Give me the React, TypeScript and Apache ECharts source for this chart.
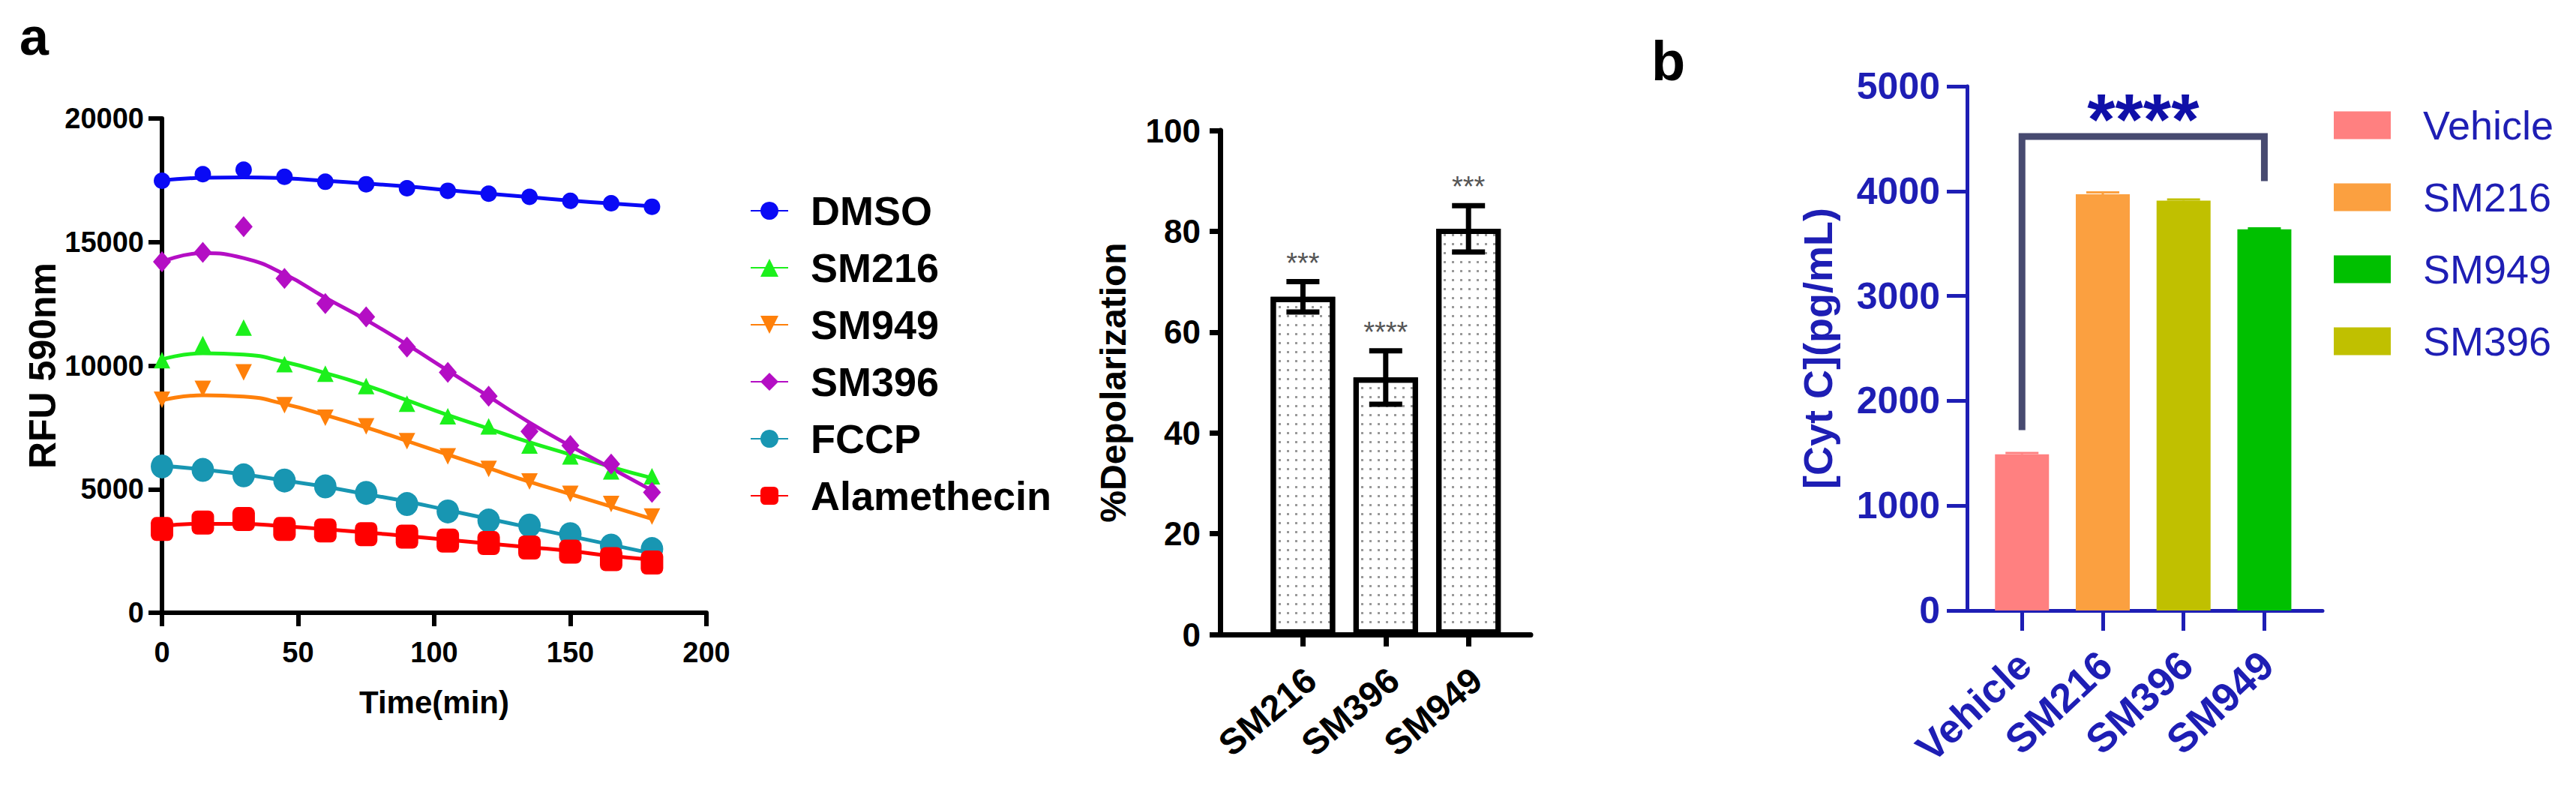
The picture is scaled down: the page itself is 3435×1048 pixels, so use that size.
import React, { useEffect, useRef } from 'react';
import * as echarts from 'echarts';

// ---------- Panel a (left): RFU 590nm over time ----------
const timePoints = [0, 15, 30, 45, 60, 75, 90, 105, 120, 135, 150, 165, 180];
const groupNames = ['DMSO', 'SM216', 'SM949', 'SM396', 'FCCP', 'Alamethecin'];

const dmsoPoints = [17480, 17745, 17930, 17640, 17440, 17340, 17180, 17075, 16955, 16830, 16670, 16570, 16430];
const sm216Points = [10220, 10870, 11540, 10060, 9670, 9170, 8460, 7950, 7540, 6770, 6330, 5720, 5520];
const sm949Points = [8620, 9060, 9730, 8400, 7890, 7540, 6940, 6330, 5820, 5310, 4810, 4400, 3890];
const sm396Points = [14200, 14580, 15620, 13530, 12510, 11970, 10750, 9730, 8760, 7340, 6770, 6020, 4870];
const fccpPoints = [5920, 5780, 5560, 5350, 5110, 4850, 4400, 4100, 3730, 3530, 3180, 2720, 2580];
const alaPoints = [3390, 3650, 3790, 3390, 3330, 3180, 3080, 2920, 2820, 2640, 2470, 2170, 2030];

// fitted curves
const dmsoFit = [17500, 17600, 17620, 17580, 17480, 17370, 17250, 17100, 16960, 16820, 16680, 16560, 16450];
const sm216Fit = [10250, 10500, 10450, 10150, 9700, 9200, 8600, 8000, 7450, 6900, 6400, 5900, 5450];
const sm949Fit = [8600, 8800, 8750, 8450, 8000, 7500, 6950, 6400, 5850, 5300, 4800, 4300, 3800];
const sm396Fit = [14200, 14550, 14350, 13700, 12750, 11850, 10850, 9800, 8750, 7700, 6750, 5850, 4950];
const fccpFit = [5950, 5800, 5600, 5350, 5100, 4800, 4500, 4150, 3800, 3450, 3100, 2750, 2400];
const alaFit = [3500, 3600, 3600, 3500, 3380, 3250, 3100, 2950, 2800, 2650, 2500, 2300, 2150];

const rfuTicks = { min: 0, max: 20000, interval: 5000 };
const timeTicks = { min: 0, max: 200, interval: 50 };

// ---------- Panel a (middle): %Depolarization ----------
const depolCategories = ['SM216', 'SM396', 'SM949'];
const depolMeans = [67, 51, 80.5];
const depolErrors = [3, 5.3, 4.6];
const depolStars = ['***', '****', '***'];

// ---------- Panel b: Cyt C ----------
const cytCategories = ['Vehicle', 'SM216', 'SM396', 'SM949'];
const cytMeans = [1490, 3970, 3910, 3635];
const cytErrors = [12, 18, 10, 10];
const cytLegendOrder = ['Vehicle', 'SM216', 'SM949', 'SM396'];
const bracketLevels = [1720, 4520, 4095]; // left foot, top, right foot
const bracketStars = '****';

// ---------- styles ----------
const groupStyle: Record<string, any> = {
  DMSO: { color: '#0a0af5', symbol: 'circle', size: 22 },
  SM216: { color: '#1cf01c', symbol: 'triangle', size: 22 },
  SM949: { color: '#ff800a', symbol: 'path://M0,0L10,0L5,9Z', size: 22 },
  SM396: { color: '#b40ec4', symbol: 'diamond', size: [24, 28] },
  FCCP: { color: '#1896b2', symbol: 'circle', size: [30, 32] },
  Alamethecin: { color: '#ff0000', symbol: 'roundRect', size: [30, 32] },
};
const groupPoints: Record<string, number[]> = {
  DMSO: dmsoPoints, SM216: sm216Points, SM949: sm949Points, SM396: sm396Points, FCCP: fccpPoints, Alamethecin: alaPoints,
};
const groupFits: Record<string, number[]> = {
  DMSO: dmsoFit, SM216: sm216Fit, SM949: sm949Fit, SM396: sm396Fit, FCCP: fccpFit, Alamethecin: alaFit,
};
const cytColors: Record<string, string> = {
  Vehicle: '#ff8080', SM216: '#fba040', SM396: '#c0c000', SM949: '#00c000',
};

const SANS = "'Liberation Sans', Arial, sans-serif";
const BLUE = '#1e1eb4';
const plain = (v: number) => String(v);

export default function App() {
  const ref = useRef<HTMLDivElement>(null);
  useEffect(() => {
    document.body.style.margin = '0';
    const chart = echarts.init(ref.current!, null, { renderer: 'svg' });

    const leftSeries: any[] = [];
    groupNames.forEach((g) => {
      const st = groupStyle[g];
      leftSeries.push({
        name: g, type: 'line', xAxisIndex: 0, yAxisIndex: 0,
        data: timePoints.map((t, i) => [t, groupFits[g][i]]),
        smooth: 0.5, symbol: st.symbol, showSymbol: false,
        lineStyle: { color: st.color, width: 5 }, itemStyle: { color: st.color }, z: 2,
      });
    });
    groupNames.forEach((g) => {
      const st = groupStyle[g];
      leftSeries.push({
        name: g, type: 'scatter', xAxisIndex: 0, yAxisIndex: 0,
        data: timePoints.map((t, i) => [t, groupPoints[g][i]]),
        symbol: st.symbol, symbolSize: st.size,
        itemStyle: { color: st.color, opacity: 1 }, z: 3,
      });
    });

    const depolBar = {
      type: 'bar', xAxisIndex: 1, yAxisIndex: 1,
      data: depolMeans.map((v, i) => [i + 1, v]),
      barWidth: 86,
      itemStyle: {
        color: '#ffffff', borderColor: '#000', borderWidth: 7,
        decal: {
          symbol: 'rect', symbolSize: 1, color: 'rgba(0,0,0,0.4)',
          dashArrayX: [3, 8], dashArrayY: [3, 9], rotation: 0,
        },
      },
      z: 2,
    };
    const depolErr = {
      type: 'custom', xAxisIndex: 1, yAxisIndex: 1,
      data: depolMeans.map((v, i) => [i + 1, v, depolErrors[i]]),
      z: 4,
      renderItem: (params: any, api: any) => {
        const x = api.value(0), y = api.value(1), e = api.value(2);
        const top = api.coord([x, y + e]);
        const bot = api.coord([x, y - e]);
        const hw = 22;
        const s = { stroke: '#000', lineWidth: 7 };
        return {
          type: 'group',
          children: [
            { type: 'line', shape: { x1: top[0], y1: top[1], x2: bot[0], y2: bot[1] }, style: s },
            { type: 'line', shape: { x1: top[0] - hw, y1: top[1], x2: top[0] + hw, y2: top[1] }, style: s },
            { type: 'line', shape: { x1: bot[0] - hw, y1: bot[1], x2: bot[0] + hw, y2: bot[1] }, style: s },
            {
              type: 'text', x: top[0], y: top[1] - 6,
              style: {
                text: depolStars[params.dataIndex], align: 'center', verticalAlign: 'bottom',
                fontSize: 38, fontFamily: SANS, fill: '#555',
              },
            },
          ],
        };
      },
    };

    const cytBars = cytLegendOrder.map((name) => {
      const i = cytCategories.indexOf(name);
      return {
        name, type: 'bar', xAxisIndex: 2, yAxisIndex: 2,
        data: [[i + 1, cytMeans[i]]], barWidth: 72, barGap: '-100%',
        itemStyle: { color: cytColors[name] }, z: 2,
      };
    });
    const cytErr = {
      type: 'custom', xAxisIndex: 2, yAxisIndex: 2,
      data: cytMeans.map((v, i) => [i + 1, v, cytErrors[i]]),
      z: 3,
      renderItem: (params: any, api: any) => {
        const x = api.value(0), y = api.value(1), e = api.value(2);
        const top = api.coord([x, y + e]);
        const mid = api.coord([x, y]);
        const c = cytColors[cytCategories[params.dataIndex]];
        return {
          type: 'group',
          children: [
            { type: 'line', shape: { x1: top[0], y1: top[1], x2: mid[0], y2: mid[1] }, style: { stroke: c, lineWidth: 3 } },
            { type: 'line', shape: { x1: top[0] - 22, y1: top[1], x2: top[0] + 22, y2: top[1] }, style: { stroke: c, lineWidth: 3 } },
          ],
        };
      },
    };
    const bracket = {
      type: 'custom', xAxisIndex: 2, yAxisIndex: 2,
      data: [[1, 4]],
      z: 5,
      renderItem: (params: any, api: any) => {
        const a = api.value(0), b = api.value(1);
        const p1 = api.coord([a, bracketLevels[0]]);
        const p2 = api.coord([a, bracketLevels[1]]);
        const p3 = api.coord([b, bracketLevels[1]]);
        const p4 = api.coord([b, bracketLevels[2]]);
        const t = api.coord([(a + b) / 2, bracketLevels[1]]);
        return {
          type: 'group',
          children: [
            {
              type: 'polyline', shape: { points: [p1, p2, p3, p4] },
              style: { stroke: '#474a70', lineWidth: 9, fill: 'none', lineJoin: 'miter' },
            },
            {
              type: 'text', x: t[0], y: t[1] - 24,
              style: {
                text: bracketStars, align: 'center', verticalAlign: 'middle',
                fontSize: 96, fontWeight: 'bold', fontFamily: SANS, fill: '#1010a8',
              },
            },
          ],
        };
      },
    };

    const blackAxis = (w: number) => ({ show: true, lineStyle: { color: '#000', width: w } });

    chart.setOption({
      animation: false,
      backgroundColor: '#fff',
      graphic: [
        { type: 'text', left: 26, top: 14, style: { text: 'a', fontSize: 70, fontWeight: 'bold', fontFamily: SANS, fill: '#000' } },
        { type: 'text', left: 2202, top: 44, style: { text: 'b', fontSize: 74, fontWeight: 'bold', fontFamily: SANS, fill: '#000' } },
      ],
      grid: [
        { left: 216, top: 158, width: 726, height: 659, outerBoundsMode: 'none' },
        { left: 1627, top: 174, width: 414, height: 672, outerBoundsMode: 'none' },
        { left: 2623, top: 115, width: 474, height: 699, outerBoundsMode: 'none' },
      ],
      xAxis: [
        {
          gridIndex: 0, type: 'value', ...timeTicks,
          name: 'Time(min)', nameLocation: 'middle', nameGap: 98,
          nameTextStyle: { fontSize: 42, fontWeight: 'bold', fontFamily: SANS, color: '#000' },
          axisLine: blackAxis(6), axisTick: { show: true, length: 18, lineStyle: { width: 6, color: '#000' } },
          axisLabel: { fontSize: 38, fontWeight: 'bold', fontFamily: SANS, color: '#000', margin: 34, formatter: plain },
          splitLine: { show: false },
        },
        {
          gridIndex: 1, type: 'value', min: 0, max: 3.75,
          axisLine: blackAxis(7),
          axisTick: { show: true, length: 16, customValues: [1, 2, 3], lineStyle: { width: 7, color: '#000' } },
          axisLabel: {
            customValues: [1.1, 2.1, 3.1], rotate: 40, margin: 54,
            formatter: (v: number) => depolCategories[Math.round(v) - 1] ?? '',
            fontSize: 48, fontWeight: 'bold', fontFamily: SANS, color: '#000',
          },
          splitLine: { show: false },
        },
        {
          gridIndex: 2, type: 'value', min: 0.32, max: 4.72,
          axisLine: { show: true, lineStyle: { color: BLUE, width: 5 } },
          axisTick: { show: true, length: 27, customValues: [1, 2, 3, 4], lineStyle: { width: 5, color: BLUE } },
          axisLabel: {
            customValues: [1.03, 2.03, 3.03, 4.03], rotate: 43, margin: 64,
            formatter: (v: number) => cytCategories[Math.round(v) - 1] ?? '',
            fontSize: 54, fontWeight: 'bold', fontFamily: SANS, color: BLUE,
          },
          splitLine: { show: false },
        },
      ],
      yAxis: [
        {
          gridIndex: 0, type: 'value', ...rfuTicks,
          name: 'RFU 590nm', nameLocation: 'middle', nameGap: 121, nameRotate: 90,
          nameTextStyle: { fontSize: 50, fontWeight: 'bold', fontFamily: SANS, color: '#000' },
          axisLine: blackAxis(6), axisTick: { show: true, length: 18, lineStyle: { width: 6, color: '#000' } },
          axisLabel: { fontSize: 38, fontWeight: 'bold', fontFamily: SANS, color: '#000', margin: 24, formatter: plain },
          splitLine: { show: false },
        },
        {
          gridIndex: 1, type: 'value', min: 0, max: 100, interval: 20,
          name: '%Depolarization', nameLocation: 'middle', nameGap: 119, nameRotate: 90,
          nameTextStyle: { fontSize: 48, fontWeight: 'bold', fontFamily: SANS, color: '#000' },
          axisLine: blackAxis(7), axisTick: { show: true, length: 14, lineStyle: { width: 7, color: '#000' } },
          axisLabel: { fontSize: 44, fontWeight: 'bold', fontFamily: SANS, color: '#000', margin: 26, formatter: plain },
          splitLine: { show: false },
        },
        {
          gridIndex: 2, type: 'value', min: 0, max: 5000, interval: 1000,
          name: '[Cyt C](pg/mL)', nameLocation: 'middle', nameGap: 172, nameRotate: 90,
          nameTextStyle: { fontSize: 54, fontWeight: 'bold', fontFamily: SANS, color: BLUE },
          axisLine: { show: true, lineStyle: { color: BLUE, width: 5 } },
          axisTick: { show: true, length: 27, lineStyle: { width: 5, color: BLUE } },
          axisLabel: { fontSize: 50, fontWeight: 'bold', fontFamily: SANS, color: BLUE, margin: 36, formatter: plain },
          splitLine: { show: false },
        },
      ],
      legend: [
        {
          data: groupNames, orient: 'vertical', left: 995, top: 248,
          itemWidth: 50, itemHeight: 30, itemGap: 20, selectedMode: false,
          textStyle: { fontSize: 54, fontWeight: 'bold', fontFamily: SANS, color: '#000', lineHeight: 56, padding: [0, 0, 0, 25] },
        },
        {
          data: cytLegendOrder.map((n) => ({ name: n, icon: 'rect', itemStyle: { color: cytColors[n], borderWidth: 0 } })),
          orient: 'vertical', left: 3107, top: 134,
          itemWidth: 76, itemHeight: 37, itemGap: 40, selectedMode: false,
          textStyle: { fontSize: 54, fontFamily: SANS, color: BLUE, lineHeight: 56, padding: [0, 0, 0, 38] },
        },
      ],
      series: [...leftSeries, depolBar, depolErr, ...cytBars, cytErr, bracket],
    });
    return () => chart.dispose();
  }, []);
  return <div ref={ref} style={{ position: 'absolute', left: 0, top: 0, width: 3435, height: 1048 }} />;
}
